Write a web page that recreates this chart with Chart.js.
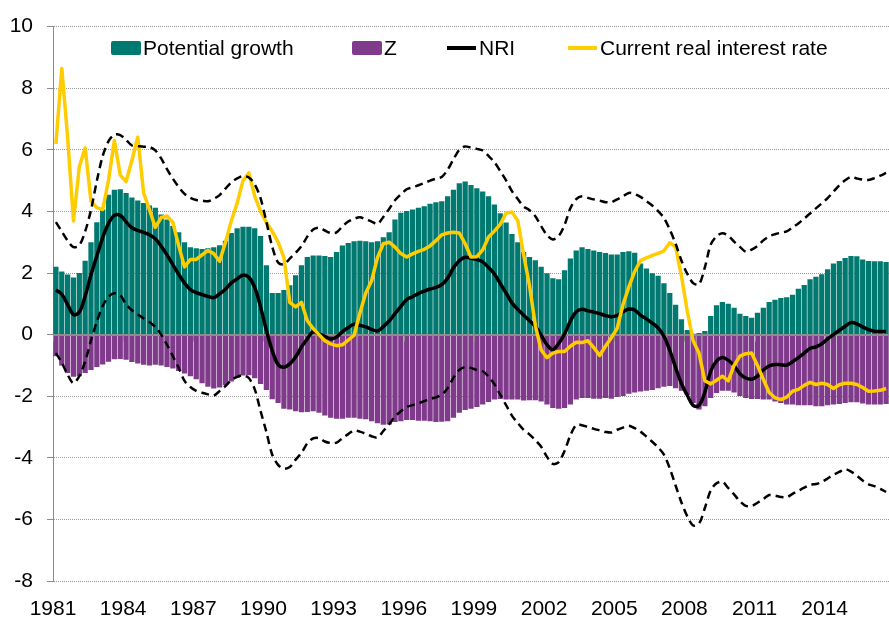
<!DOCTYPE html>
<html>
<head>
<meta charset="utf-8">
<script src="https://cdn.jsdelivr.net/npm/chart.js@4.4.1/dist/chart.umd.min.js"></script>
<style>
  html, body { margin: 0; padding: 0; background: #fff; }
  #wrap { position: relative; width: 889px; height: 618px; }
  #nriChart { display: block; }
  .legend { position: absolute; top: 37px; left: 0; font: 21px 'Liberation Sans', Arial, sans-serif; color: #000; }
  .item { position: absolute; top: 0; display: flex; align-items: center; white-space: nowrap; line-height: 21px; }
  .box { display: inline-block; width: 30px; height: 14px; border-radius: 2px; margin-right: 2px; }
  .line { display: inline-block; width: 29px; height: 4px; margin-right: 3px; }
</style>
</head>
<body>
<div id="wrap">
  <canvas id="nriChart" width="889" height="618"></canvas>
  <div class="legend">
    <div class="item" style="left:111px"><span class="box" style="background:#007A70"></span>Potential growth</div>
    <div class="item" style="left:352px"><span class="box" style="background:#803A8C"></span>Z</div>
    <div class="item" style="left:447px"><span class="line" style="background:#000"></span>NRI</div>
    <div class="item" style="left:568px"><span class="line" style="background:#FFCC00"></span>Current real interest rate</div>
  </div>
</div>
<script>
// quarterly, 1981 Q1 .. 2016 Q3
const quarters = [];
for (let yr = 1981; quarters.length < 143; yr++) {
    for (let q = 1; q <= 4 && quarters.length < 143; q++) quarters.push(yr + ' Q' + q);
}
const yearLabels = ['1981', '1984', '1987', '1990', '1993', '1996', '1999', '2002', '2005', '2008', '2011', '2014'];

const potentialGrowth = [
    2.2, 2.05, 1.95, 1.85, 2.0, 2.4, 3.0, 3.65, 4.06, 4.54,
    4.7, 4.72, 4.6, 4.45, 4.35, 4.27, 4.19, 4.12, 3.9, 3.74,
    3.53, 3.32, 3.0, 2.84, 2.8, 2.78, 2.8, 2.84, 2.9, 3.05,
    3.3, 3.45, 3.5, 3.5, 3.45, 3.2, 2.25, 1.35, 1.35, 1.45,
    1.6, 1.93, 2.25, 2.52, 2.57, 2.57, 2.55, 2.52, 2.68, 2.89,
    2.97, 3.03, 3.05, 3.03, 3.0, 3.03, 3.16, 3.32, 3.74, 3.96,
    4.01, 4.06, 4.12, 4.17, 4.25, 4.3, 4.33, 4.49, 4.7, 4.91,
    4.97, 4.86, 4.75, 4.65, 4.49, 4.22, 3.94, 3.64, 3.27, 3.0,
    2.68, 2.52, 2.41, 2.2, 1.99, 1.83, 1.8, 2.09, 2.47, 2.73,
    2.84, 2.78, 2.73, 2.68, 2.65, 2.6, 2.6, 2.68, 2.71, 2.66,
    2.31, 2.15, 1.99, 1.91, 1.67, 1.35, 0.97, 0.5, 0.15, 0.03,
    0.05, 0.12, 0.6, 0.95, 1.06, 1.0, 0.87, 0.68, 0.6, 0.55,
    0.71, 0.87, 1.06, 1.13, 1.19, 1.21, 1.29, 1.49, 1.61, 1.8,
    1.88, 1.96, 2.12, 2.31, 2.39, 2.49, 2.55, 2.54, 2.44, 2.39,
    2.38, 2.38, 2.36
];
const zValues = [
    -0.7, -1.0, -1.25, -1.37, -1.35, -1.25, -1.15, -1.05, -0.97, -0.88,
    -0.8, -0.79, -0.82, -0.89, -0.94, -0.98, -1.0, -0.98, -1.0, -1.05,
    -1.1, -1.18, -1.26, -1.35, -1.45, -1.58, -1.69, -1.75, -1.72, -1.64,
    -1.52, -1.4, -1.33, -1.32, -1.42, -1.6, -1.8, -2.1, -2.22, -2.41,
    -2.43, -2.49, -2.52, -2.51, -2.49, -2.54, -2.63, -2.7, -2.73, -2.73,
    -2.7, -2.7, -2.73, -2.75, -2.81, -2.88, -2.93, -2.92, -2.84, -2.81,
    -2.77, -2.77, -2.8, -2.8, -2.81, -2.84, -2.83, -2.81, -2.7, -2.54,
    -2.45, -2.41, -2.35, -2.27, -2.19, -2.11, -2.09, -2.11, -2.11, -2.11,
    -2.14, -2.13, -2.13, -2.17, -2.27, -2.38, -2.41, -2.38, -2.27, -2.11,
    -2.06, -2.06, -2.08, -2.08, -2.06, -2.08, -2.03, -1.99, -1.92, -1.88,
    -1.85, -1.82, -1.8, -1.74, -1.69, -1.67, -1.74, -1.82, -1.96, -2.22,
    -2.43, -2.33, -2.06, -1.9, -1.82, -1.82, -1.88, -1.99, -2.06, -2.09,
    -2.09, -2.11, -2.11, -2.17, -2.22, -2.27, -2.27, -2.29, -2.29, -2.29,
    -2.33, -2.33, -2.29, -2.27, -2.25, -2.22, -2.2, -2.2, -2.24, -2.27,
    -2.27, -2.27, -2.25
];
const nri = [
    1.45, 1.31, 0.98, 0.65, 0.73, 1.25, 1.94, 2.55, 3.15, 3.61,
    3.87, 3.87, 3.66, 3.47, 3.38, 3.32, 3.24, 3.11, 2.87, 2.59,
    2.27, 1.96, 1.67, 1.46, 1.36, 1.3, 1.24, 1.2, 1.32, 1.47,
    1.68, 1.81, 1.93, 1.86, 1.53, 0.9, 0.14, -0.52, -0.97, -1.06,
    -0.95, -0.73, -0.4, -0.14, 0.1, 0.02, -0.06, -0.14, -0.08, 0.1,
    0.23, 0.34, 0.3, 0.25, 0.17, 0.12, 0.26, 0.44, 0.68, 0.91,
    1.14, 1.23, 1.33, 1.41, 1.48, 1.53, 1.62, 1.83, 2.17, 2.4,
    2.51, 2.48, 2.44, 2.36, 2.18, 1.97, 1.66, 1.35, 1.03, 0.82,
    0.63, 0.45, 0.27, -0.02, -0.33, -0.49, -0.29, 0.02, 0.44, 0.74,
    0.82, 0.77, 0.73, 0.68, 0.62, 0.58, 0.62, 0.74, 0.83, 0.8,
    0.63, 0.51, 0.37, 0.22, -0.05, -0.51, -1.07, -1.59, -1.97, -2.3,
    -2.3, -1.87, -1.19, -0.86, -0.74, -0.83, -1.01, -1.27, -1.41, -1.45,
    -1.35, -1.15, -1.02, -0.97, -0.98, -0.99, -0.88, -0.75, -0.6, -0.45,
    -0.4, -0.3, -0.14, 0.0, 0.14, 0.27, 0.39, 0.35, 0.25, 0.16,
    0.11, 0.1, 0.1
];
const realRate = [
    6.19, 8.64, 6.41, 3.69, 5.45, 6.06, 4.33, 4.12, 4.06, 5.02,
    6.3, 5.18, 4.97, 5.66, 6.41, 4.6, 4.06, 3.48, 3.8, 3.85,
    3.64, 2.89, 2.2, 2.44, 2.44, 2.59, 2.73, 2.63, 2.38, 3.0,
    3.69, 4.27, 5.0, 5.25, 4.5, 4.0, 3.64, 3.35, 3.0, 2.5,
    1.05, 0.9, 1.05, 0.45, 0.2, 0.0, -0.2, -0.3, -0.36, -0.33,
    -0.18, -0.02, 0.7, 1.35, 1.75, 2.5, 2.95, 3.0, 2.84, 2.63,
    2.52, 2.62, 2.7, 2.77, 2.88, 3.05, 3.24, 3.3, 3.32, 3.3,
    2.95, 2.52, 2.53, 2.75, 3.17, 3.36, 3.58, 3.94, 3.98, 3.7,
    2.6, 1.6, 0.3, -0.5, -0.75, -0.6, -0.55, -0.55, -0.38, -0.25,
    -0.26, -0.2, -0.42, -0.68, -0.38, -0.1, 0.2, 0.97, 1.55, 2.05,
    2.4, 2.49, 2.57, 2.64, 2.72, 2.98, 2.85, 1.9, 0.75, -0.2,
    -0.6, -1.5, -1.6, -1.48, -1.35, -1.5, -1.0, -0.7, -0.62, -0.6,
    -1.0, -1.45, -1.88, -2.05, -2.11, -2.03, -1.84, -1.78, -1.65, -1.55,
    -1.62, -1.58, -1.62, -1.75, -1.63, -1.58, -1.58, -1.62, -1.72, -1.84,
    -1.83, -1.81, -1.75
];
const upperBand = [
    3.65, 3.35, 3.05, 2.84, 2.9, 3.35, 4.05, 4.99, 5.8, 6.28,
    6.49, 6.48, 6.32, 6.14, 6.12, 6.1, 6.09, 5.98, 5.72, 5.37,
    5.06, 4.79, 4.57, 4.44, 4.37, 4.35, 4.33, 4.41, 4.53, 4.74,
    4.94, 5.07, 5.15, 5.1, 4.88, 4.43, 3.66, 2.85, 2.34, 2.28,
    2.47, 2.65, 2.87, 3.18, 3.41, 3.47, 3.38, 3.3, 3.32, 3.51,
    3.67, 3.76, 3.81, 3.74, 3.67, 3.59, 3.82, 4.08, 4.36, 4.55,
    4.72, 4.78, 4.85, 4.92, 5.0, 5.06, 5.12, 5.35, 5.69, 6.0,
    6.11, 6.07, 6.03, 5.98, 5.8, 5.6, 5.31, 5.01, 4.66, 4.4,
    4.16, 4.04, 3.84, 3.52, 3.23, 3.09, 3.2, 3.56, 4.1, 4.4,
    4.49, 4.44, 4.39, 4.35, 4.3, 4.3, 4.39, 4.49, 4.6, 4.56,
    4.47, 4.33, 4.19, 4.01, 3.79, 3.41, 2.95, 2.4, 1.97, 1.67,
    1.63, 2.18, 2.92, 3.19, 3.29, 3.21, 3.02, 2.85, 2.69, 2.76,
    2.88, 3.06, 3.19, 3.26, 3.31, 3.35, 3.48, 3.61, 3.77, 3.93,
    4.1, 4.26, 4.43, 4.64, 4.85, 5.01, 5.12, 5.07, 5.03, 5.02,
    5.08, 5.16, 5.25
];
const lowerBand = [
    -0.6, -0.91, -1.3, -1.58, -1.35, -0.87, -0.19, 0.42, 0.93, 1.23,
    1.34, 1.28, 0.98, 0.79, 0.65, 0.53, 0.41, 0.25, 0.0, -0.33,
    -0.7, -1.08, -1.5, -1.7, -1.83, -1.89, -1.94, -1.98, -1.83, -1.67,
    -1.48, -1.37, -1.32, -1.41, -1.77, -2.48, -3.16, -3.9, -4.23, -4.35,
    -4.3, -4.06, -3.84, -3.53, -3.37, -3.36, -3.47, -3.52, -3.51, -3.36,
    -3.23, -3.11, -3.15, -3.22, -3.3, -3.34, -3.13, -2.91, -2.66, -2.49,
    -2.35, -2.29, -2.23, -2.16, -2.09, -2.04, -1.95, -1.74, -1.4, -1.15,
    -1.05, -1.08, -1.15, -1.19, -1.36, -1.61, -1.95, -2.29, -2.63, -2.87,
    -3.09, -3.24, -3.43, -3.64, -3.97, -4.2, -4.14, -3.78, -3.27, -2.93,
    -2.94, -3.0, -3.06, -3.11, -3.16, -3.18, -3.09, -3.02, -2.96, -3.04,
    -3.15, -3.31, -3.48, -3.66, -3.9, -4.34, -4.9, -5.45, -5.9, -6.2,
    -6.14, -5.63, -5.06, -4.83, -4.78, -4.98, -5.19, -5.41, -5.56, -5.57,
    -5.46, -5.34, -5.21, -5.23, -5.27, -5.28, -5.17, -5.07, -4.97, -4.88,
    -4.85, -4.79, -4.67, -4.55, -4.46, -4.37, -4.45, -4.58, -4.74, -4.86,
    -4.92, -5.01, -5.11
];

Chart.defaults.font.family = "'Liberation Sans', Arial, sans-serif";
Chart.defaults.font.size = 21;
Chart.defaults.color = '#000';

// axis line at zero with tick marks, drawn over the bars
const zeroAxis = {
    id: 'zeroAxis',
    afterDatasetDraw(chart, args) {
        if (args.index !== 1) return;
        const { ctx, chartArea, scales: { x, y } } = chart;
        const y0 = Math.round(y.getPixelForValue(0)) + 0.5;
        const half = (x.getPixelForValue(1) - x.getPixelForValue(0)) / 2;
        ctx.save();
        ctx.strokeStyle = '#8c8c8c';
        ctx.lineWidth = 1;
        ctx.beginPath();
        ctx.moveTo(chartArea.left, y0);
        ctx.lineTo(chartArea.right, y0);
        for (let i = 0; i < quarters.length; i += 12) {
            const px = Math.round(x.getPixelForValue(i) - half) + 0.5;
            ctx.moveTo(px, y0);
            ctx.lineTo(px, y0 + 6);
        }
        ctx.stroke();
        ctx.restore();
    }
};

new Chart(document.getElementById('nriChart'), {
    type: 'bar',
    data: {
        labels: quarters,
        datasets: [
            {
                label: 'Potential growth',
                data: potentialGrowth,
                backgroundColor: '#007A70',
                grouped: false,
                barPercentage: 0.9,
                categoryPercentage: 1.0,
                order: 6
            },
            {
                label: 'Z',
                data: zValues,
                backgroundColor: '#803A8C',
                grouped: false,
                barPercentage: 0.9,
                categoryPercentage: 1.0,
                order: 5
            },
            {
                type: 'line',
                label: 'NRI',
                data: nri,
                borderColor: '#000',
                borderWidth: 3.5,
                pointRadius: 0,
                tension: 0.35,
                order: 3
            },
            {
                type: 'line',
                label: 'Current real interest rate',
                data: realRate,
                borderColor: '#FFCC00',
                borderWidth: 3.5,
                pointRadius: 0,
                tension: 0,
                borderJoinStyle: 'round',
                order: 2
            },
            {
                type: 'line',
                label: 'Upper bound',
                data: upperBand,
                borderColor: '#000',
                borderWidth: 2.5,
                borderDash: [8, 5],
                pointRadius: 0,
                tension: 0.3,
                order: 1
            },
            {
                type: 'line',
                label: 'Lower bound',
                data: lowerBand,
                borderColor: '#000',
                borderWidth: 2.5,
                borderDash: [8, 5],
                pointRadius: 0,
                tension: 0.3,
                order: 1
            }
        ]
    },
    options: {
        responsive: false,
        animation: false,
        layout: { padding: { left: 10, right: 0, top: 17, bottom: 0 } },
        plugins: {
            legend: { display: false },
            tooltip: { enabled: false }
        },
        scales: {
            x: {
                // ticks hidden with the grid; tickLength only pushes labels down
                grid: { display: false, drawTicks: true, tickLength: 16 },
                border: { display: false },
                ticks: {
                    autoSkip: false,
                    maxRotation: 0,
                    padding: 0,
                    labelOffset: -2.92,
                    callback: (value, index) => index % 12 === 0 ? yearLabels[index / 12] : ''
                },
                afterFit: scale => { scale.height = 37; }
            },
            y: {
                min: -8,
                max: 10,
                ticks: { stepSize: 2, padding: 14 },
                grid: {
                    color: ctx => ctx.tick && ctx.tick.value === 0 ? '#8c8c8c' : '#9a9a9a',
                    lineWidth: 1,
                    tickLength: 6,
                    tickColor: '#8c8c8c',
                    tickBorderDash: []
                },
                border: {
                    display: true,
                    color: '#8c8c8c',
                    width: 1,
                    dash: ctx => ctx.tick && ctx.tick.value === 0 ? [] : [1, 1]
                },
                afterFit: scale => { scale.width = 43; }
            }
        }
    },
    plugins: [zeroAxis]
});
</script>
</body>
</html>
